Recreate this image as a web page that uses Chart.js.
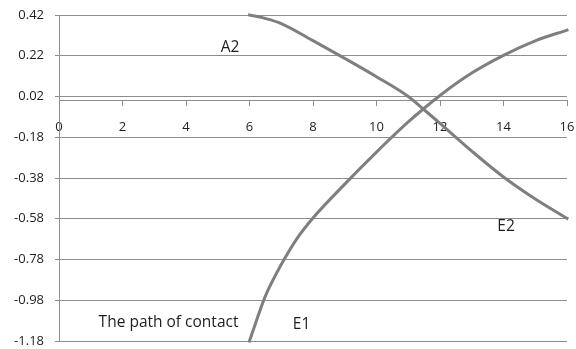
<!DOCTYPE html>
<html>
<head>
<meta charset="utf-8">
<script src="https://cdn.jsdelivr.net/npm/chart.js@4/dist/chart.umd.min.js"></script>
<style>
  html, body { margin: 0; padding: 0; background: #fff; }
  #wrap { width: 576px; height: 349px; }
</style>
</head>
<body>
<div id="wrap"><canvas id="pathChart" width="576" height="349"></canvas></div>
<script>
// curve A2 -> E2 (falling) and curve E1 -> (rising)
const a2X = [6, 6.5, 7, 8, 9, 10, 11, 11.5, 12, 13, 14, 15, 16];
const a2Values = [0.42, 0.403, 0.378, 0.294, 0.207, 0.117, 0.02, -0.045, -0.112, -0.248, -0.375, -0.483, -0.578];

const e1X = [6, 6.5, 7, 7.5, 8, 9, 10, 11, 12, 13, 14, 15, 16];
const e1Values = [-1.18, -0.96, -0.805, -0.676, -0.576, -0.41, -0.253, -0.105, 0.025, 0.135, 0.222, 0.293, 0.346];

const xTicks = [0, 2, 4, 6, 8, 10, 12, 14, 16];
const yTicks = [-1.18, -0.98, -0.78, -0.58, -0.38, -0.18, 0.02, 0.22, 0.42];

// text labels placed in data units
const noteTexts = ['A2', 'E2', 'E1', 'The path of contact'];
const noteX = [5.39, 14.08, 7.64, 3.45];
const noteY = [0.258, -0.616, -1.097, -1.089];

const lineColor = '#7f7f7f';
const gridColor = '#8e8e8e';
const textColor = '#1e1e1e';

function toPoints(xs, ys) {
  return xs.map((x, i) => ({ x: x, y: ys[i] }));
}

// keep label overhang from pushing the plot area around
function noPadding(scale) {
  scale.paddingLeft = 0;
  scale.paddingRight = 0;
  scale.paddingTop = 0;
  scale.paddingBottom = 0;
}

const notesPlugin = {
  id: 'notes',
  afterDatasetsDraw(chart) {
    const ctx = chart.ctx;
    const sx = chart.scales.x;
    const sy = chart.scales.y;
    ctx.save();
    ctx.font = '15.5px "Open Sans", sans-serif';
    ctx.fillStyle = textColor;
    ctx.textAlign = 'center';
    ctx.textBaseline = 'middle';
    noteTexts.forEach((t, i) => {
      ctx.fillText(t, sx.getPixelForValue(noteX[i]), sy.getPixelForValue(noteY[i]));
    });
    ctx.restore();
  }
};

function createPathChart() {
  const ctx = document.getElementById('pathChart').getContext('2d');
  new Chart(ctx, {
    type: 'scatter',
    data: {
      datasets: [
        { label: 'A2-E2', data: toPoints(a2X, a2Values) },
        { label: 'E1', data: toPoints(e1X, e1Values) }
      ].map(ds => Object.assign(ds, {
        showLine: true,
        borderColor: lineColor,
        borderWidth: 3,
        borderCapStyle: 'square',
        pointRadius: 0,
        cubicInterpolationMode: 'monotone',
        clip: false
      }))
    },
    options: {
      responsive: false,
      animation: false,
      layout: { padding: { left: 0, top: 15, right: 9, bottom: 8 } },
      plugins: {
        legend: { display: false },
        tooltip: { enabled: false }
      },
      scales: {
        x: {
          type: 'linear',
          position: { y: 0 },
          min: 0,
          max: 16,
          afterBuildTicks: scale => { scale.ticks = xTicks.map(v => ({ value: v })); },
          afterFit: noPadding,
          grid: { drawOnChartArea: false, tickLength: 5, color: gridColor },
          border: { color: gridColor, width: 1 },
          ticks: {
            padding: 14,
            color: textColor,
            font: { family: '"Open Sans", sans-serif', size: 13 },
            maxRotation: 0,
            callback: v => String(v)
          }
        },
        y: {
          type: 'linear',
          min: -1.18,
          max: 0.42,
          afterBuildTicks: scale => { scale.ticks = yTicks.map(v => ({ value: v })); },
          afterFit: scale => { scale.width = 59; noPadding(scale); },
          grid: { color: gridColor, tickLength: 4 },
          border: { color: gridColor, width: 1 },
          ticks: {
            padding: 11,
            color: textColor,
            font: { family: '"Open Sans", sans-serif', size: 13 },
            callback: v => v.toFixed(2)
          }
        }
      }
    },
    plugins: [notesPlugin]
  });
}

document.addEventListener('DOMContentLoaded', () => {
  createPathChart();
});
</script>
</body>
</html>
